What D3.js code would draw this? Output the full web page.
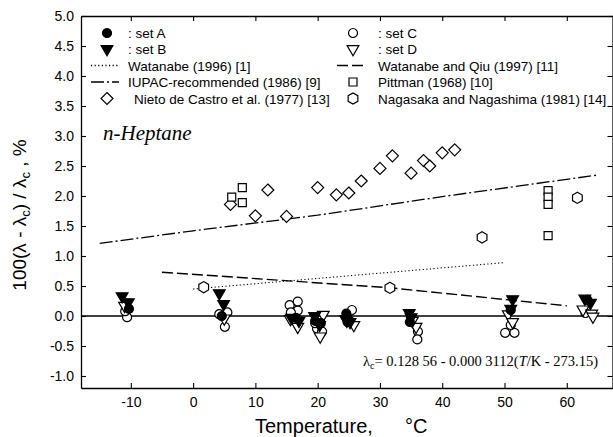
<!DOCTYPE html>
<html><head><meta charset="utf-8">
<script src="https://cdn.jsdelivr.net/npm/d3@7"></script>
<style>body{margin:0;background:#fff} svg{display:block}</style>
</head><body>
<svg id="c" width="613" height="437"></svg>
<script>
// ---- data ----
const xTicks = [-10, 0, 10, 20, 30, 40, 50, 60];
const yTicks = [-1.0, -0.5, 0.0, 0.5, 1.0, 1.5, 2.0, 2.5, 3.0, 3.5, 4.0, 4.5, 5.0];

const setA_T = [-10.3, 4.6, 16.5, 19.6, 20.5, 24.6, 24.8, 34.8, 51.0, 63.3];
const setA_Y = [0.12, 0.0, -0.03, -0.08, -0.12, 0.04, -0.10, -0.10, 0.10, 0.27];
const setB_T = [-11.4, -10.4, 4.2, 4.9, 17.0, 15.8, 19.5, 20.3, 24.5, 25.2, 34.7, 35.0, 51.3, 51.0, 62.9, 63.8];
const setB_Y = [0.33, 0.23, 0.38, 0.20, -0.08, -0.03, 0.00, -0.15, -0.05, -0.10, 0.05, -0.02, 0.28, 0.12, 0.29, 0.22];
const setC_T = [-10.6, -10.9, 4.2, 5.1, 5.5, 15.5, 16.8, 16.8, 15.7, 19.9, 20.7, 19.6, 25.5, 36.1, 36.0, 50.1, 51.6, 51.0, 63.0];
const setC_Y = [-0.02, 0.08, 0.03, -0.18, 0.06, 0.18, 0.24, 0.09, 0.06, -0.21, -0.26, -0.12, 0.10, -0.26, -0.39, -0.28, -0.28, -0.15, 0.05];
const setD_T = [-11.0, 5.0, 15.6, 16.8, 20.9, 20.4, 25.8, 24.7, 35.8, 35.2, 50.6, 51.3, 62.6, 64.0, 64.2];
const setD_Y = [0.17, -0.04, -0.05, -0.18, 0.02, -0.34, -0.15, -0.08, -0.18, -0.08, 0.03, -0.10, 0.11, 0.04, -0.01];

const nieto_T = [6, 10, 12, 15, 20, 23, 25, 27, 30, 32, 35, 37, 38, 40, 42];
const nieto_Y = [1.86, 1.67, 2.10, 1.66, 2.14, 2.02, 2.05, 2.25, 2.46, 2.67, 2.38, 2.59, 2.50, 2.72, 2.77];
const pittman_T = [6.2, 7.9, 7.9, 57, 57, 57, 57];
const pittman_Y = [1.98, 2.14, 1.89, 2.09, 1.98, 1.86, 1.34];
const nagasaka_T = [1.7, 31.6, 46.4, 61.7];
const nagasaka_Y = [0.48, 0.47, 1.31, 1.97];

const watanabe96_T = [0, 50];
const watanabe96_Y = [0.45, 0.89];
const watanabeQiu_T = [-5, 31.6, 60];
const watanabeQiu_Y = [0.73, 0.47, 0.17];
const iupac_T = [-15, 0, 20, 40, 65];
const iupac_Y = [1.21, 1.42, 1.68, 1.99, 2.35];

// ---- chart ----
const svg = d3.select('#c');
const x = d3.scaleLinear().domain([-18, 67.5]).range([81, 613.5]);
const y = d3.scaleLinear().domain([-1.2, 5.0]).range([388, 16]);
const FONT = '"Liberation Sans", Arial, sans-serif';
const SERIF = '"Liberation Serif", "Times New Roman", serif';

function styleAxis(g, labels) {
  g.selectAll('path.domain').attr('stroke', '#000').attr('stroke-width', 1.3);
  g.selectAll('.tick line').attr('stroke', '#000').attr('stroke-width', 1.1);
  g.selectAll('text').attr('font-family', FONT).attr('font-size', 14).attr('fill', '#000');
  if (!labels) g.selectAll('text').remove();
}
svg.append('g').attr('transform', `translate(0,${y.range()[0]})`)
  .call(d3.axisBottom(x).tickValues(xTicks).tickSize(-5).tickSizeOuter(0).tickPadding(9).tickFormat(d => String(d)))
  .call(g => styleAxis(g, true));
svg.append('g').attr('transform', `translate(0,${y.range()[1]})`)
  .call(d3.axisTop(x).tickValues(xTicks).tickSize(-5).tickSizeOuter(0))
  .call(g => styleAxis(g, false));
svg.append('g').attr('transform', `translate(${x.range()[0]},0)`)
  .call(d3.axisLeft(y).tickValues(yTicks).tickSize(-5).tickSizeOuter(0).tickPadding(7).tickFormat(d => d.toFixed(1)))
  .call(g => styleAxis(g, true));
svg.append('g').attr('transform', `translate(${x.range()[1] - 1},0)`)
  .call(d3.axisRight(y).tickValues(yTicks).tickSize(-5).tickSizeOuter(0))
  .call(g => styleAxis(g, false));

// zero line
svg.append('line').attr('x1', x.range()[0]).attr('x2', x.range()[1]).attr('y1', y(0)).attr('y2', y(0))
  .attr('stroke', '#000').attr('stroke-width', 1.5);

// lines
const line = d3.line().x(d => x(d[0])).y(d => y(d[1]));
function drawLine(T, Y, dash, w) {
  svg.append('path').attr('d', line(T.map((t, i) => [t, Y[i]])))
    .attr('fill', 'none').attr('stroke', '#000').attr('stroke-width', w).attr('stroke-dasharray', dash);
}
drawLine(iupac_T, iupac_Y, '13,3,2,3', 1.3);
drawLine(watanabeQiu_T, watanabeQiu_Y, '11,4', 1.4);
drawLine(watanabe96_T, watanabe96_Y, '1.2,2.4', 1.1);

// symbols
const hexPath = r => { const p = d3.path(); for (let i = 0; i < 6; i++) { const a = Math.PI / 3 * i - Math.PI / 2; const px = r * Math.cos(a), py = r * Math.sin(a); i ? p.lineTo(px, py) : p.moveTo(px, py); } p.closePath(); return p.toString(); };
const SYM = {
  circleF: { d: d3.symbol(d3.symbolCircle, 64)(), fill: '#000', rot: 0 },
  triF: { d: d3.symbol(d3.symbolTriangle, 60)(), fill: '#000', rot: 180 },
  circleO: { d: d3.symbol(d3.symbolCircle, 64)(), fill: '#fff', rot: 0 },
  triO: { d: d3.symbol(d3.symbolTriangle, 60)(), fill: '#fff', rot: 180 },
  diamond: { d: 'M0,-6L6,0L0,6L-6,0Z', fill: '#fff', rot: 0 },
  square: { d: 'M-4,-4H4V4H-4Z', fill: '#fff', rot: 0 },
  hex: { d: hexPath(5.6), fill: '#fff', rot: 0 }
};
function drawPts(T, Y, s) {
  svg.append('g').selectAll('path').data(T.map((t, i) => [t, Y[i]])).join('path')
    .attr('d', SYM[s].d)
    .attr('transform', d => `translate(${x(d[0])},${y(d[1])}) rotate(${SYM[s].rot})`)
    .attr('fill', SYM[s].fill).attr('stroke', '#000').attr('stroke-width', 1.2);
}
drawPts(nieto_T, nieto_Y, 'diamond');
drawPts(pittman_T, pittman_Y, 'square');
drawPts(nagasaka_T, nagasaka_Y, 'hex');
drawPts(setC_T, setC_Y, 'circleO');
drawPts(setD_T, setD_Y, 'triO');
drawPts(setA_T, setA_Y, 'circleF');
drawPts(setB_T, setB_Y, 'triF');

// legend
const legendRows = [
  { col: 0, row: 0, sym: 'circleF', text: ': set A' },
  { col: 0, row: 1, sym: 'triF', text: ': set B' },
  { col: 0, row: 2, dash: '1.2,2.4', text: 'Watanabe (1996) [1]' },
  { col: 0, row: 3, dash: '13,3,2,3', text: 'IUPAC-recommended (1986) [9]' },
  { col: 0, row: 4, sym: 'diamond', text: 'Nieto de Castro et al. (1977) [13]', dx: 6 },
  { col: 1, row: 0, sym: 'circleO', text: ': set C' },
  { col: 1, row: 1, sym: 'triO', text: ': set D' },
  { col: 1, row: 2, dash: '11,4', text: 'Watanabe and Qiu (1997) [11]' },
  { col: 1, row: 3, sym: 'square', text: 'Pittman (1968) [10]' },
  { col: 1, row: 4, sym: 'hex', text: 'Nagasaka and Nagashima (1981) [14]' }
];
const colSym = [107, 353], colText = [128, 378], rowY = [33, 49, 65.5, 82, 98.5];
const lg = svg.append('g');
legendRows.forEach(r => {
  const cx = colSym[r.col], cy = rowY[r.row];
  if (r.sym) {
    const s = SYM[r.sym];
    lg.append('path').attr('d', s.d).attr('transform', `translate(${cx},${cy}) rotate(${s.rot})`)
      .attr('fill', s.fill).attr('stroke', '#000').attr('stroke-width', 1.2);
  } else {
    lg.append('line').attr('x1', cx - 16).attr('x2', cx + 12).attr('y1', cy).attr('y2', cy)
      .attr('stroke', '#000').attr('stroke-width', 1.3).attr('stroke-dasharray', r.dash);
  }
  lg.append('text').attr('x', colText[r.col] + (r.dx || 0)).attr('y', cy + 5)
    .attr('font-family', FONT).attr('font-size', 13.5).text(r.text);
});

// n-Heptane label
svg.append('text').attr('x', 103).attr('y', 140).attr('font-family', SERIF)
  .attr('font-style', 'italic').attr('font-size', 21).text('n-Heptane');

// formula
const f = svg.append('text').attr('x', 598).attr('y', 366).attr('text-anchor', 'end')
  .attr('font-family', SERIF).attr('font-size', 14.5);
f.append('tspan').text('λ');
f.append('tspan').attr('dy', 3).attr('font-size', 10).text('c');
f.append('tspan').attr('dy', -3).text('= 0.128 56 - 0.000 3112(');
f.append('tspan').attr('font-style', 'italic').text('T');
f.append('tspan').text('/K - 273.15)');

// axis titles
const xt = svg.append('text').attr('x', 255).attr('y', 433).attr('font-family', FONT).attr('font-size', 20);
xt.append('tspan').text('Temperature,');
xt.append('tspan').attr('x', 405).text('°C');

const yt = svg.append('text').attr('transform', 'translate(26,215) rotate(-90)').attr('text-anchor', 'middle')
  .attr('font-family', FONT).attr('font-size', 19);
yt.append('tspan').text('100(λ - λ');
yt.append('tspan').attr('dy', 4).attr('font-size', 13).text('c');
yt.append('tspan').attr('dy', -4).text(') / λ');
yt.append('tspan').attr('dy', 4).attr('font-size', 13).text('c');
yt.append('tspan').attr('dy', -4).text(' ,   %');
</script>
</body></html>
